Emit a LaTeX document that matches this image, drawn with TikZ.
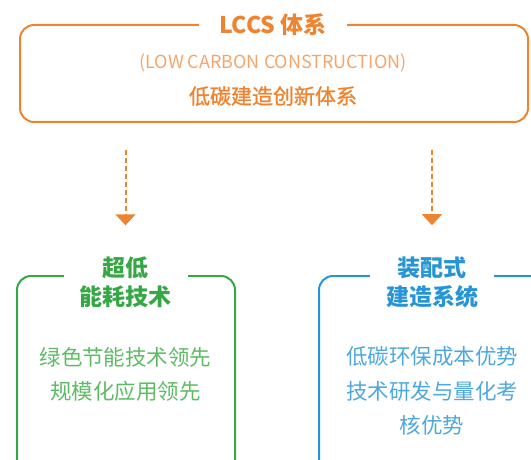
\documentclass[tikz,border=0pt]{standalone}
\usepackage{fontspec}
\setmainfont{Noto Sans CJK SC}
\newfontfamily\lcmedium[FakeBold = 1.2]{Noto Sans CJK SC}
\usetikzlibrary{arrows.meta}
\definecolor{lcorange}{HTML}{EE8430}
\definecolor{lcorangel}{HTML}{F3A66B}
\definecolor{lcgreen}{HTML}{35A845}
\definecolor{lcgreenl}{HTML}{5DBB63}
\definecolor{lcblue}{HTML}{2795D5}
\definecolor{lcbluel}{HTML}{4DA8DE}
\begin{document}
\begin{tikzpicture}[x = 1pt, y = -1pt,
  frame/.style = {line width = 2pt, rounded corners = 14pt},
  head/.style = {fill = white, inner xsep = 16pt, inner ysep = 2pt, align = center,
                 font = \fontsize{23}{29}\selectfont\bfseries},
  body/.style = {align = center, font = \fontsize{21.5}{34.5}\selectfont},
  flow/.style = {lcorange, line width = 2pt, dash pattern = on 5pt off 3pt,
                 shorten <= 28pt, shorten >= 29pt,
                 -{Triangle[width = 20pt, length = 11pt]}}]
\useasboundingbox (0, 0) rectangle (531, 460);
\clip (0, 0) rectangle (531, 460);
% top box
\draw[frame, lcorange] (20, 25) rectangle (528, 122);
\node[coordinate] (lccsb) at (273, 122) {};
\node[head, text = lcorange, inner xsep = 20pt] (lccs) at (273, 25) {LCCS 体系};
\node[text = lcorangel, font = \fontsize{18}{20}\selectfont] (lccsen) at (273, 63)
     {(LOW CARBON CONSTRUCTION)};
\node[text = lcorange, font = \fontsize{21}{24}\lcmedium] (lccscn) at (273, 96)
     {低碳建造创新体系};
% left box
\draw[frame, lcgreen] (17, 276) rectangle (235, 480);
\node[head, text = lcgreen] (nzeb) at (125.5, 282) {超低\\能耗技术};
\node[body, text = lcgreenl] (nzebtxt) at (125.5, 374.5) {绿色节能技术领先\\规模化应用领先};
% right box
\draw[frame, lcblue] (319, 276) rectangle (545, 480);
\node[head, text = lcblue] (prefab) at (432, 282) {装配式\\建造系统};
\node[body, text = lcbluel] (prefabtxt) at (432, 391) {低碳环保成本优势\\技术研发与量化考\\核优势};
% arrows
\draw[flow] (lccsb -| nzeb) to (nzeb.north);
\draw[flow] (lccsb -| prefab) to (prefab.north);
\end{tikzpicture}
\end{document}
